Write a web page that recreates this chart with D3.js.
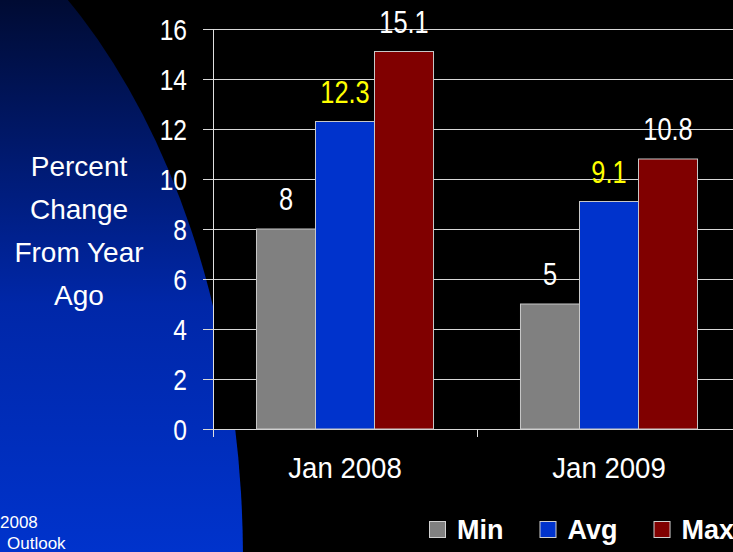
<!DOCTYPE html>
<html>
<head>
<meta charset="utf-8">
<script src="https://cdn.jsdelivr.net/npm/d3@7"></script>
<style>
  html, body { margin: 0; padding: 0; background: #000; }
  svg { display: block; }
</style>
</head>
<body>
<svg id="chart" width="733" height="552"></svg>
<script>
const categories = ["Jan 2008", "Jan 2009"];
const seriesNames = ["Min", "Avg", "Max"];
const minValues = [8, 5];
const avgValues = [12.3, 9.1];
const maxValues = [15.1, 10.8];
const yTicks = [0, 2, 4, 6, 8, 10, 12, 14, 16];
const yTitleLines = ["Percent", "Change", "From Year", "Ago"];
const footLines = ["2008", "Outlook"];

const seriesValues = [minValues, avgValues, maxValues];
const colors = { Min: "#808080", Avg: "#0033cc", Max: "#800000" };
const labelColors = { Min: "#ffffff", Avg: "#ffff00", Max: "#ffffff" };

const SANS = "'Liberation Sans', Arial, sans-serif";
const NARROW_SX = 0.82;

const svg = d3.select("#chart");
const W = 733, H = 552;

// background
const defs = svg.append("defs");
const grad = defs.append("linearGradient").attr("id", "bg")
  .attr("gradientUnits", "userSpaceOnUse").attr("x1", 0).attr("y1", 0).attr("x2", 0).attr("y2", 552);
grad.append("stop").attr("offset", 0).attr("stop-color", "#000b33");
grad.append("stop").attr("offset", 0.55).attr("stop-color", "#0027a8");
grad.append("stop").attr("offset", 1).attr("stop-color", "#0033cc");

svg.append("rect").attr("width", W).attr("height", H).attr("fill", "#000");
svg.append("ellipse").attr("cx", -200).attr("cy", 560).attr("rx", 443).attr("ry", 703).attr("fill", "url(#bg)");

const plot = { left: 213, right: 741, top: 29, bottom: 429 };

const y = d3.scaleLinear().domain([0, 16]).range([plot.bottom, plot.top]);
const x0 = d3.scaleBand().domain(categories).range([plot.left, plot.right]).paddingInner(0).paddingOuter(0);
const x1 = d3.scaleBand().domain(seriesNames).range([0, x0.bandwidth()]).paddingInner(0).paddingOuter(0.737);

// plot area
svg.append("rect").attr("x", plot.left).attr("y", plot.top)
  .attr("width", plot.right - plot.left).attr("height", plot.bottom - plot.top).attr("fill", "#000");

// gridlines
svg.append("g").selectAll("line").data(yTicks).join("line")
  .attr("x1", plot.left - 10).attr("x2", plot.right)
  .attr("y1", d => Math.round(y(d)) + 0.5).attr("y2", d => Math.round(y(d)) + 0.5)
  .attr("stroke", "#d8d8d8").attr("stroke-width", 1);

// y axis line
svg.append("line").attr("x1", plot.left + 0.5).attr("x2", plot.left + 0.5)
  .attr("y1", plot.top).attr("y2", plot.bottom + 8).attr("stroke", "#e0e0e0");

// x axis ticks at category boundaries
const bounds = categories.map(c => x0(c)).concat([plot.right]);
svg.append("g").selectAll("line").data(bounds).join("line")
  .attr("x1", d => Math.round(d) + 0.5).attr("x2", d => Math.round(d) + 0.5)
  .attr("y1", plot.bottom).attr("y2", plot.bottom + 8).attr("stroke", "#e0e0e0");

// y tick labels (condensed)
svg.append("g").selectAll("text").data(yTicks).join("text")
  .attr("transform", d => `translate(187,${y(d)}) scale(${NARROW_SX},1)`)
  .attr("dy", "0.35em")
  .attr("text-anchor", "end").attr("fill", "#fff")
  .style("font-family", SANS).style("font-size", "30px")
  .text(d => d);

// bars
const groups = svg.append("g").selectAll("g").data(categories).join("g")
  .attr("transform", c => `translate(${x0(c)},0)`);

groups.selectAll("rect").data((c, ci) => seriesNames.map((s, si) => ({ s, v: seriesValues[si][ci] })))
  .join("rect")
  .attr("x", d => x1(d.s)).attr("y", d => y(d.v))
  .attr("width", x1.bandwidth()).attr("height", d => y(0) - y(d.v))
  .attr("fill", d => colors[d.s]).attr("stroke", "#c8c8c8").attr("stroke-width", 1);

groups.selectAll("text").data((c, ci) => seriesNames.map((s, si) => ({ s, v: seriesValues[si][ci] })))
  .join("text")
  .attr("transform", d => `translate(${x1(d.s) + x1.bandwidth() / 2},${y(d.v) - 19}) scale(${NARROW_SX},1)`)
  .attr("text-anchor", "middle").attr("fill", d => labelColors[d.s])
  .style("font-family", SANS).style("font-size", "31px")
  .text(d => d.v);

// x labels
svg.append("g").selectAll("text").data(categories).join("text")
  .attr("transform", c => `translate(${x0(c) + x0.bandwidth() / 2},478) scale(0.92,1)`)
  .attr("text-anchor", "middle").attr("fill", "#fff")
  .style("font-family", SANS).style("font-size", "30px")
  .text(c => c);

// y title
svg.append("text").attr("text-anchor", "middle").attr("fill", "#fff")
  .style("font-family", SANS).style("font-size", "28px")
  .selectAll("tspan").data(yTitleLines).join("tspan")
  .attr("x", 79).attr("y", (d, i) => 176 + i * 43).text(d => d);

// footnote
svg.append("g").selectAll("text").data(footLines).join("text")
  .attr("x", (d, i) => i === 0 ? 0 : 7).attr("y", (d, i) => 528 + i * 21)
  .attr("fill", "#fff").style("font-family", SANS).style("font-size", "17px")
  .text(d => d);

// legend
const legend = svg.append("g");
let lx = 429;
seriesNames.forEach(s => {
  legend.append("rect").attr("x", lx + 0.5).attr("y", 521.5).attr("width", 16).attr("height", 16)
    .attr("fill", colors[s]).attr("stroke", "#d0d0d0").attr("stroke-width", 1);
  const t = legend.append("text").attr("x", lx + 28).attr("y", 539).attr("fill", "#fff")
    .style("font-family", SANS).style("font-size", "27px").style("font-weight", "bold").text(s);
  lx = lx + 28 + t.node().getComputedTextLength() + 36;
});
</script>
</body>
</html>
